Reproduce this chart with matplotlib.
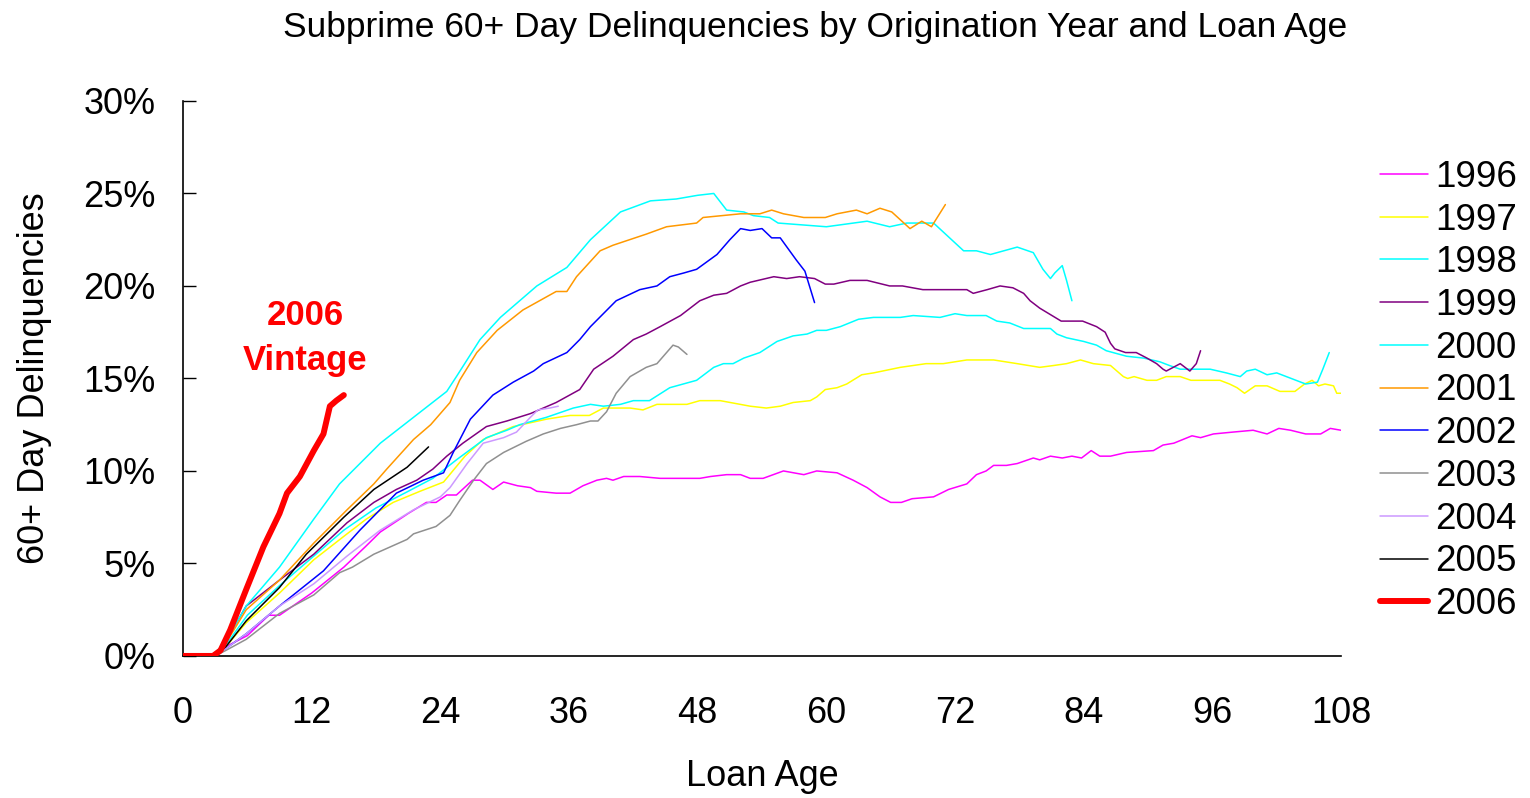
import matplotlib
matplotlib.use("Agg")
import matplotlib.pyplot as plt
from matplotlib.ticker import FuncFormatter

plt.rcParams['font.family'] = ['Liberation Sans', 'DejaVu Sans']

# (loan age in months, 60+ day delinquency %)
pts_1996 = [(0, 0), (2.7, 0), (3, 0.1), (4, 0.5), (6, 1.1), (8, 2.2), (9, 2.2), (12, 3.4), (15, 4.8),
            (17, 5.9), (18.4, 6.7), (21, 7.7), (22.7, 8.3), (23.6, 8.3), (24.6, 8.7), (25.5, 8.7),
            (27, 9.5), (27.7, 9.5), (28.9, 9.0), (29.9, 9.4), (31.2, 9.2), (32.4, 9.1), (33, 8.9),
            (34.8, 8.8), (36.1, 8.8), (37.3, 9.2), (38.6, 9.5), (39.5, 9.6), (40.1, 9.5), (41.1, 9.7),
            (42.6, 9.7), (44.5, 9.6), (48.2, 9.6), (49.2, 9.7), (50.7, 9.8), (52, 9.8), (52.9, 9.6),
            (54.1, 9.6), (56, 10.0), (57.9, 9.8), (59.1, 10.0), (61, 9.9), (62.5, 9.5), (63.8, 9.1),
            (65, 8.6), (66, 8.3), (67, 8.3), (68, 8.5), (70, 8.6), (71.4, 9.0), (73.1, 9.3), (74, 9.8),
            (74.9, 10.0), (75.6, 10.3), (76.8, 10.3), (77.8, 10.4), (79.3, 10.7), (79.9, 10.6),
            (80.9, 10.8), (82, 10.7), (82.9, 10.8), (83.8, 10.7), (84.7, 11.1), (85.5, 10.8),
            (86.5, 10.8), (88, 11.0), (90.5, 11.1), (91.4, 11.4), (92.4, 11.5), (94.1, 11.9),
            (94.9, 11.8), (96.1, 12.0), (97.9, 12.1), (99.8, 12.2), (101.1, 12.0), (102.2, 12.3),
            (103.3, 12.2), (104.7, 12.0), (106.1, 12.0), (107, 12.3), (108, 12.2)]

pts_1997 = [(0, 0), (2.8, 0), (4, 0.5), (5.9, 1.8), (9, 3.4), (12.2, 5.2), (15.3, 6.6), (17.1, 7.4),
            (19.6, 8.3), (22.1, 8.9), (24.3, 9.4), (26.3, 10.8), (28, 11.7), (30.8, 12.4), (33.9, 12.8),
            (36.1, 13.0), (37.9, 13.0), (39.2, 13.4), (41.7, 13.4), (42.9, 13.3), (44.2, 13.6),
            (47, 13.6), (48.2, 13.8), (50.1, 13.8), (52.9, 13.5), (54.4, 13.4), (55.7, 13.5),
            (56.9, 13.7), (58.5, 13.8), (59.1, 14.0), (59.9, 14.4), (61, 14.5), (61.9, 14.7),
            (63.3, 15.2), (64.4, 15.3), (66.9, 15.6), (69.3, 15.8), (70.9, 15.8), (73.1, 16.0),
            (75.6, 16.0), (77.8, 15.8), (79.9, 15.6), (81.2, 15.7), (82.4, 15.8), (83.7, 16.0),
            (84.9, 15.8), (86.5, 15.7), (87.1, 15.4), (87.7, 15.1), (88.1, 15.0), (88.7, 15.1),
            (89.9, 14.9), (90.8, 14.9), (91.7, 15.1), (93, 15.1), (94, 14.9), (96.7, 14.9),
            (97.6, 14.7), (98.3, 14.5), (99, 14.2), (100, 14.6), (101.1, 14.6), (102.3, 14.3),
            (103.7, 14.3), (104.6, 14.7), (105.3, 14.9), (105.9, 14.6), (106.5, 14.7), (107.3, 14.6),
            (107.6, 14.2), (108, 14.2)]

pts_1998 = [(0, 0), (2.8, 0), (4, 0.6), (6, 2.2), (9, 3.8), (12, 5.3), (15, 6.8), (18, 8.0), (21, 8.9),
            (23.3, 9.6), (25.5, 10.6), (28.3, 11.8), (30.2, 12.2), (31.4, 12.5), (33.9, 12.9),
            (36.4, 13.4), (38, 13.6), (39.2, 13.5), (40.8, 13.6), (42, 13.8), (43.5, 13.8),
            (45.4, 14.5), (47.9, 14.9), (49.5, 15.6), (50.4, 15.8), (51.3, 15.8), (52.3, 16.1),
            (53.8, 16.4), (55.4, 17.0), (56.9, 17.3), (58.2, 17.4), (59.1, 17.6), (60, 17.6),
            (61.3, 17.8), (63, 18.2), (64.4, 18.3), (66.9, 18.3), (68.1, 18.4), (70.6, 18.3),
            (72, 18.5), (73.1, 18.4), (74.9, 18.4), (75.9, 18.1), (77.1, 18.0), (78.4, 17.7),
            (80.9, 17.7), (81.5, 17.4), (82.4, 17.2), (84, 17.0), (85.2, 16.8), (86.1, 16.5),
            (88, 16.2), (89.6, 16.1), (91.1, 15.9), (92, 15.7), (93, 15.5), (94.2, 15.5), (95.8, 15.5),
            (97.3, 15.3), (98.6, 15.1), (99.2, 15.4), (100, 15.5), (101.1, 15.2), (102, 15.3),
            (102.9, 15.1), (103.8, 14.9), (104.7, 14.7), (105.8, 14.8), (106.3, 15.5), (106.9, 16.4)]

pts_1999 = [(0, 0), (2.8, 0), (4, 0.8), (5.9, 2.7), (9, 4.1), (12.2, 5.5), (15.3, 7.2), (17.8, 8.3),
            (19.9, 9.0), (21.8, 9.5), (23.3, 10.1), (24.6, 10.8), (26.1, 11.5), (28.3, 12.4),
            (30.2, 12.7), (32.4, 13.1), (34.8, 13.7), (37, 14.4), (38.3, 15.5), (40.1, 16.2),
            (42, 17.1), (43.2, 17.4), (44.5, 17.8), (46.4, 18.4), (48.2, 19.2), (49.5, 19.5),
            (50.7, 19.6), (52, 20.0), (52.9, 20.2), (55.1, 20.5), (56.3, 20.4), (57.5, 20.5),
            (58.9, 20.4), (59.9, 20.1), (60.7, 20.1), (62.2, 20.3), (63.8, 20.3), (65.9, 20.0),
            (67.1, 20.0), (69, 19.8), (73.1, 19.8), (73.7, 19.6), (75, 19.8), (76.2, 20.0),
            (77.4, 19.9), (78.4, 19.6), (79, 19.2), (79.9, 18.8), (81.9, 18.1), (83.9, 18.1),
            (85.2, 17.8), (86, 17.5), (86.5, 16.9), (86.9, 16.6), (87.9, 16.4), (88.9, 16.4),
            (89.9, 16.1), (90.8, 15.8), (91.4, 15.5), (91.7, 15.4), (93, 15.8), (93.9, 15.4),
            (94.5, 15.8), (94.9, 16.5)]

pts_2000 = [(0, 0), (2.8, 0), (4, 0.8), (5.9, 2.7), (9, 4.8), (12.2, 7.4), (14.6, 9.3), (18.4, 11.5),
            (21.5, 12.9), (24.6, 14.3), (25.5, 15.1), (27.7, 17.1), (29.6, 18.3), (33, 20.0),
            (35.8, 21.0), (38, 22.5), (40.8, 24.0), (43.6, 24.6), (46, 24.7), (48, 24.9), (49.5, 25.0),
            (50.7, 24.1), (52.3, 24.0), (53.2, 23.8), (54.7, 23.7), (55.5, 23.4), (60, 23.2),
            (63.8, 23.5), (65.9, 23.2), (67.5, 23.4), (70, 23.4), (72.8, 21.9), (74, 21.9),
            (75.3, 21.7), (77.8, 22.1), (79.3, 21.8), (80.2, 20.9), (80.9, 20.4), (81.3, 20.7),
            (82, 21.1), (82.4, 20.3), (82.9, 19.2)]

pts_2001 = [(0, 0), (2.8, 0), (4, 0.7), (5.9, 2.5), (9, 4.1), (12.2, 6.1), (15.3, 7.9), (17.8, 9.3),
            (19, 10.1), (21.5, 11.7), (23.1, 12.5), (24.9, 13.7), (25.8, 14.9), (27.4, 16.4),
            (29.3, 17.6), (31.7, 18.7), (34.8, 19.7), (35.8, 19.7), (36.7, 20.5), (38.9, 21.9),
            (40.1, 22.2), (43.2, 22.8), (45.1, 23.2), (47.9, 23.4), (48.5, 23.7), (52, 23.9),
            (53.8, 23.9), (54.9, 24.1), (56, 23.9), (57.9, 23.7), (59.9, 23.7), (61, 23.9),
            (62.8, 24.1), (63.8, 23.9), (65, 24.2), (66.1, 24.0), (67.8, 23.1), (68.9, 23.5),
            (69.8, 23.2), (71.1, 24.4)]

pts_2002 = [(0, 0), (2.8, 0), (4, 0.4), (5.9, 1.2), (9, 2.7), (13.1, 4.6), (16.5, 6.8), (19.9, 8.8),
            (22.4, 9.5), (24.3, 9.9), (25.2, 11.0), (26.8, 12.8), (28.9, 14.1), (30.8, 14.8),
            (32.7, 15.4), (33.6, 15.8), (35.8, 16.4), (37, 17.1), (38, 17.8), (40.4, 19.2),
            (42.6, 19.8), (44.2, 20.0), (45.4, 20.5), (46.7, 20.7), (47.9, 20.9), (49.8, 21.7),
            (51, 22.5), (52, 23.1), (52.9, 23.0), (54, 23.1), (54.9, 22.6), (55.7, 22.6),
            (57.2, 21.4), (58, 20.8), (58.9, 19.1)]

pts_2003 = [(0, 0), (3, 0), (4, 0.3), (5.9, 0.9), (9, 2.3), (12.2, 3.3), (14.6, 4.5), (15.8, 4.8),
            (17.8, 5.5), (20.9, 6.3), (21.5, 6.6), (23.6, 7.0), (24.9, 7.6), (25.8, 8.4), (27.1, 9.5),
            (28.3, 10.4), (29.9, 11.0), (32, 11.6), (33.6, 12.0), (35.2, 12.3), (36.7, 12.5),
            (38, 12.7), (38.7, 12.7), (39.5, 13.2), (40.4, 14.2), (41.7, 15.1), (43.2, 15.6),
            (44.2, 15.8), (45.1, 16.4), (45.7, 16.8), (46.2, 16.7), (47, 16.3)]

pts_2004 = [(0, 0), (2.8, 0), (4, 0.4), (5.9, 1.2), (9, 2.7), (12.2, 3.9), (15.3, 5.4), (18.4, 6.8),
            (21.5, 7.9), (24, 8.6), (24.9, 9.1), (26.5, 10.4), (28, 11.5), (29.9, 11.8), (31.1, 12.1),
            (32.4, 12.9), (33.1, 13.3), (34.2, 13.4), (35, 13.5)]

pts_2005 = [(0, 0), (3, 0), (4, 0.5), (5.9, 1.9), (9, 3.7), (11.5, 5.5), (15, 7.5), (17.8, 9.0),
            (20.9, 10.2), (22.9, 11.3)]

pts_2006 = [(0, 0), (2.8, 0), (3.5, 0.3), (4.4, 1.4), (5.9, 3.6), (7.5, 5.9), (9, 7.7), (9.7, 8.8),
            (10.9, 9.7), (12.2, 11.1), (13.1, 12.0), (13.7, 13.5), (14.3, 13.8), (15, 14.1)]

vintages = ["1996", "1997", "1998", "1999", "2000", "2001", "2002", "2003", "2004", "2005", "2006"]
series = [pts_1996, pts_1997, pts_1998, pts_1999, pts_2000, pts_2001, pts_2002,
          pts_2003, pts_2004, pts_2005, pts_2006]
colors = ["#FF00FF", "#FFFF00", "#00FFFF", "#800080", "#00FFFF", "#FF9900", "#0000FF",
          "#909090", "#CC99FF", "#000000", "#FF0000"]
x_ticks = [0, 12, 24, 36, 48, 60, 72, 84, 96, 108]
y_ticks = [0, 5, 10, 15, 20, 25, 30]

fig = plt.figure(figsize=(15.3, 7.98), dpi=100)
ax = fig.add_axes([0.1196, 0.178, 0.7569, 0.6955])

for name, pts, c in zip(vintages, series, colors):
    ages = [p[0] for p in pts]
    rates = [p[1] for p in pts]
    lw = 4.3 if name == "2006" else 1.1
    ax.plot(ages, rates, color=c, lw=lw, label=name, solid_capstyle="round", zorder=3 if name == "2006" else 2)

ax.set_xlim(0, 108)
ax.set_ylim(0, 30)
ax.set_xticks(x_ticks)
ax.set_yticks(y_ticks)
ax.yaxis.set_major_formatter(FuncFormatter(lambda v, p: f"{v:.0f}%"))
ax.tick_params(axis="y", direction="in", length=9, width=1, labelsize=26, pad=20)
ax.tick_params(axis="x", length=0, labelsize=26, pad=29)
for s in ["top", "right"]:
    ax.spines[s].set_visible(False)
for s in ["left", "bottom"]:
    ax.spines[s].set_linewidth(1.2)

ax.set_xlabel("Loan Age", fontsize=26, labelpad=20)
ax.set_ylabel("60+ Day Delinquencies", fontsize=26, labelpad=22)
fig.suptitle("Subprime 60+ Day Delinquencies by Origination Year and Loan Age", fontsize=25.5, x=0.533, y=0.986)

ax.text(11.4, 17.2, "2006\nVintage", color="#FF0000", fontsize=25, fontweight="bold",
        ha="center", va="center", linespacing=1.45)

fig.legend(loc="center left", bbox_to_anchor=(1362 / 1530, 1 - 391 / 798), frameon=False,
           fontsize=26.5, handlelength=1.3, handletextpad=0.2, labelspacing=0.21, borderpad=0)

fig.savefig("out.png", dpi=100)
